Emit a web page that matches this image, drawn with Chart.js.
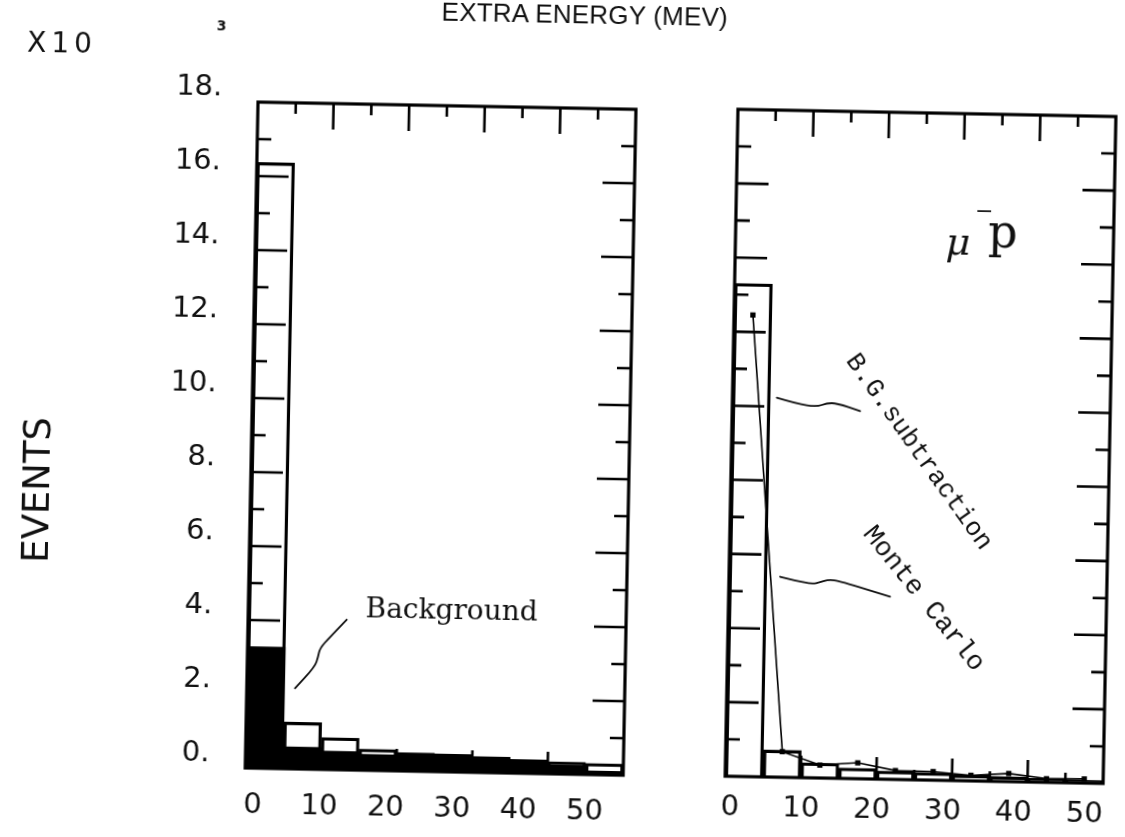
<!DOCTYPE html>
<html>
<head>
<meta charset="utf-8">
<script src="https://cdn.jsdelivr.net/npm/chart.js@4.4.1/dist/chart.umd.min.js"></script>
<style>
  html, body { margin: 0; padding: 0; background: #fff; overflow: hidden; }
  #page { position: relative; width: 1125px; height: 837px;
          transform: rotate(1.1deg); transform-origin: 562.5px 418.5px; }
  #page canvas { position: absolute; top: 0; }
  #left { left: 0; }
  #right { left: 680px; }
  .t { position: absolute; color: #111; white-space: nowrap; font-family: "DejaVu Sans", sans-serif; }
  #title { left: 577px; top: 14px; transform: translate(-50%, -50%); font-family: "Liberation Sans", sans-serif;
           font-size: 26px; letter-spacing: 0.2px; }
  #mult { left: 55px; top: 52px; transform: translate(-50%, -50%); font-size: 28px; letter-spacing: 5px; }
  #expo { left: 214px; top: 32px; transform: translate(-50%, -50%); font-size: 14px; font-weight: bold; }
  #ylab { left: 38px; top: 500px; transform: translate(-50%, -50%) rotate(-90deg); font-size: 37px; }
</style>
</head>
<body>
<div id="page">
  <canvas id="left" width="680" height="837"></canvas>
  <canvas id="right" width="445" height="837"></canvas>
  <div class="t" id="title">EXTRA ENERGY (MEV)</div>
  <div class="t" id="mult">X10</div>
  <div class="t" id="expo">3</div>
  <div class="t" id="ylab">EVENTS</div>
</div>
<script>
// Extra-energy histograms, 5 MeV bins from 0 to 50 MeV, events in units of 10^3
const binCenters = [2.5, 7.5, 12.5, 17.5, 22.5, 27.5, 32.5, 37.5, 42.5, 47.5];
const leftTotal = [16.37, 1.26, 0.86, 0.57, 0.50, 0.48, 0.43, 0.37, 0.33, 0.30];
const leftBackground = [3.28, 0.59, 0.50, 0.43, 0.43, 0.43, 0.42, 0.37, 0.24, 0.10];
const rightSubtracted = [13.3, 0.73, 0.40, 0.28, 0.22, 0.20, 0.15, 0.13, 0.10, 0.08];
const monteCarlo = [12.46, 0.69, 0.35, 0.43, 0.24, 0.23, 0.15, 0.22, 0.10, 0.11];

// tick labels and frame tick marks
const yTickLabels = [0, 2, 4, 6, 8, 10, 12, 14, 16, 18];
const xTickLabels = [0, 10, 20, 30, 40, 50];
const binEdges = [0, 5, 10, 15, 20, 25, 30, 35, 40, 45, 50];
const xFrameTicks = [5, 10, 15, 20, 25, 30, 35, 40, 45];
const yFrameTicks = [1, 2, 3, 4, 5, 6, 7, 8, 9, 10, 11, 12, 13, 14, 15, 16, 17];

const pts = (xs, ys) => xs.map((x, i) => ({ x, y: ys[i] }));

// boxed frame with inward ticks on all four sides
const framePlugin = {
  id: 'frame',
  afterDatasetsDraw(chart) {
    const { ctx, chartArea: a, scales } = chart;
    const x = scales.x, y = scales.y;
    ctx.save();
    ctx.strokeStyle = '#000';
    ctx.lineWidth = 2.6;
    ctx.beginPath();
    xFrameTicks.forEach(v => {
      const px = x.getPixelForValue(v);
      const major = v % 10 === 0;
      ctx.moveTo(px, a.top); ctx.lineTo(px, a.top + (major ? 26 : 11));
      ctx.moveTo(px, a.bottom); ctx.lineTo(px, a.bottom - (major ? 22 : 10));
    });
    yFrameTicks.forEach(v => {
      const py = y.getPixelForValue(v);
      const major = v % 2 === 0;
      ctx.moveTo(a.left, py); ctx.lineTo(a.left + (major ? 32 : 14), py);
      ctx.moveTo(a.right, py); ctx.lineTo(a.right - (major ? 32 : 14), py);
    });
    ctx.stroke();
    ctx.lineWidth = 3.2;
    ctx.strokeRect(a.left, a.top, a.right - a.left, a.bottom - a.top);
    ctx.restore();
  }
};

// smooth hand-drawn pointer through points given in axis units
function drawLeader(chart, path) {
  const { ctx, scales: { x, y } } = chart;
  const p = path.map(([u, v]) => [x.getPixelForValue(u), y.getPixelForValue(v)]);
  ctx.save();
  ctx.strokeStyle = '#111';
  ctx.lineWidth = 1.8;
  ctx.lineCap = 'round';
  ctx.beginPath();
  ctx.moveTo(p[0][0], p[0][1]);
  for (let i = 1; i < p.length - 1; i++) {
    const mx = (p[i][0] + p[i + 1][0]) / 2, my = (p[i][1] + p[i + 1][1]) / 2;
    ctx.quadraticCurveTo(p[i][0], p[i][1], mx, my);
  }
  ctx.lineTo(p[p.length - 1][0], p[p.length - 1][1]);
  ctx.stroke();
  ctx.restore();
}

function drawText(chart, text, u, v, font, angleDeg, align, baseline) {
  const { ctx, scales: { x, y } } = chart;
  ctx.save();
  ctx.translate(x.getPixelForValue(u), y.getPixelForValue(v));
  ctx.rotate((angleDeg || 0) * Math.PI / 180);
  ctx.font = font;
  ctx.fillStyle = '#111';
  ctx.textAlign = align || 'center';
  ctx.textBaseline = baseline || 'alphabetic';
  ctx.fillText(text, 0, 0);
  ctx.restore();
}

const leftNotes = {
  id: 'leftNotes',
  afterDraw(chart) {
    drawText(chart, 'Background', 26.9, 4.13, '28px "DejaVu Serif", serif');
    drawLeader(chart, [[13.04, 4.06], [10.86, 3.58], [9.56, 3.27], [9.36, 3.04], [8.95, 2.77], [6.38, 2.18]]);
  }
};

const rightNotes = {
  id: 'rightNotes',
  afterDraw(chart) {
    drawText(chart, 'μ', 27.8, 14.2, 'italic 38px "DejaVu Serif", serif', 0, 'left');
    drawText(chart, '−', 31.6, 15.2, '22px "DejaVu Serif", serif', 0, 'left');
    drawText(chart, 'p', 33.4, 14.4, '46px "DejaVu Serif", serif', 0, 'left');
    drawText(chart, 'B.G.subtraction', 24.8, 8.85, '26px "Liberation Mono", monospace', 53.5, 'center', 'middle');
    drawText(chart, 'Monte Carlo', 25.8, 4.89, '27px "Liberation Mono", monospace', 50.1, 'center', 'middle');
    drawLeader(chart, [[5.87, 10.24], [8.52, 10.09], [11.18, 10.01], [12.5, 10.12], [13.82, 10.12], [16.92, 9.92]]);
    drawLeader(chart, [[6.76, 5.41], [8.97, 5.31], [10.97, 5.23], [12.06, 5.28], [13.16, 5.36], [14.71, 5.32], [21.36, 4.93]]);
  }
};

// printed energy scale under each frame
function labelAxis(min, max, padding, height) {
  return {
    type: 'linear', position: 'bottom', min, max, offset: false,
    grid: { display: false, drawTicks: false, offset: false }, border: { display: false },
    afterBuildTicks(axis) { axis.ticks = xTickLabels.map(v => ({ value: v })); },
    afterFit(axis) { axis.height = height; },
    ticks: { color: '#111', padding, font: { family: '"DejaVu Sans", sans-serif', size: 29 },
             maxRotation: 0, autoSkip: false, callback: v => String(v) }
  };
}

// energy axis carrying the bins; its ticks sit on the bin edges so each bar spans one bin
const dataX = {
  type: 'linear', min: 0, max: 50, offset: false, grid: { offset: false }, display: false,
  afterBuildTicks(axis) { axis.ticks = binEdges.map(v => ({ value: v })); }
};

const common = {
  responsive: false, animation: false, devicePixelRatio: 1,
  plugins: { legend: { display: false }, tooltip: { enabled: false } }
};

new Chart(document.getElementById('left'), {
  type: 'bar',
  data: {
    datasets: [
      { label: 'Background', data: pts(binCenters, leftBackground), backgroundColor: '#000',
        borderWidth: 0, grouped: false, barPercentage: 1, categoryPercentage: 1 },
      { label: 'Events', data: pts(binCenters, leftTotal), backgroundColor: 'rgba(0,0,0,0)',
        borderColor: '#000', borderWidth: 2.6, grouped: false, barPercentage: 1, categoryPercentage: 1 }
    ]
  },
  options: Object.assign({}, common, {
    layout: { padding: { left: 0, right: 50, top: 108, bottom: 0 } },
    scales: {
      x: dataX,
      y: {
        type: 'linear', min: 0, max: 18, position: 'left',
        grid: { display: false, drawTicks: false }, border: { display: false },
        afterFit(axis) { axis.width = 252; },
        afterBuildTicks(axis) { axis.ticks = yTickLabels.map(v => ({ value: v })); },
        ticks: { color: '#111', padding: 36, labelOffset: -14,
                 font: { family: '"DejaVu Sans", sans-serif', size: 29 },
                 callback: v => v + '.' }
      },
      xl: labelAxis(-1.22, 55.73, 20, 63)
    }
  }),
  plugins: [framePlugin, leftNotes]
});

new Chart(document.getElementById('right'), {
  type: 'bar',
  data: {
    datasets: [
      { type: 'line', label: 'Monte Carlo', data: pts(binCenters, monteCarlo), borderColor: '#000',
        backgroundColor: '#000', borderWidth: 1.6, pointStyle: 'rect', pointRadius: 2.6,
        tension: 0, fill: false },
      { label: 'B.G.subtraction', data: pts(binCenters, rightSubtracted), backgroundColor: 'rgba(0,0,0,0)',
        borderColor: '#000', borderWidth: 2.6, grouped: false, barPercentage: 1, categoryPercentage: 1 }
    ]
  },
  options: Object.assign({}, common, {
    layout: { padding: { left: 52, right: 15, top: 106, bottom: 0 } },
    scales: {
      x: dataX,
      y: { type: 'linear', min: 0, max: 18, display: false },
      xl: labelAxis(-0.755, 52.59, 14, 64)
    }
  }),
  plugins: [framePlugin, rightNotes]
});
</script>
</body>
</html>
